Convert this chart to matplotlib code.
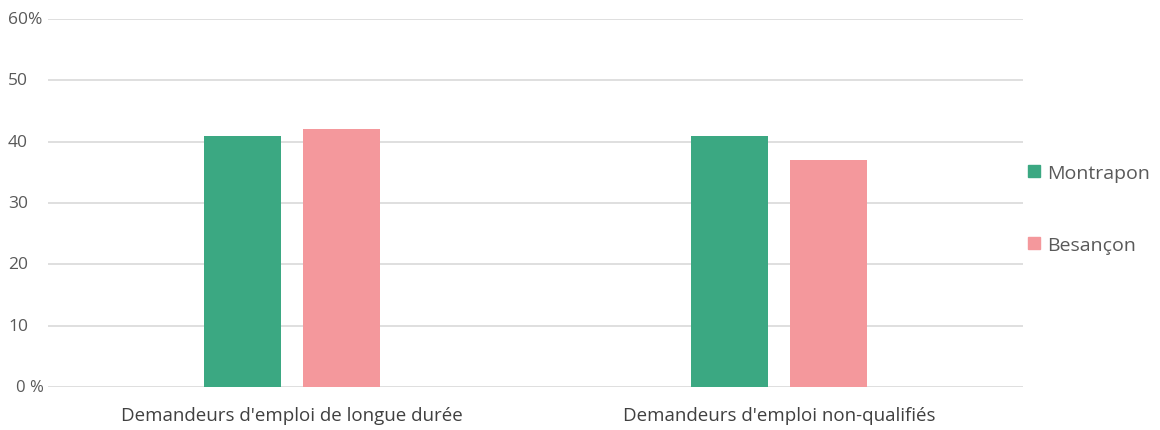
import matplotlib
matplotlib.use('Agg')
import matplotlib.pyplot as plt
from matplotlib.patches import Patch
import numpy as np

plt.rcParams['font.family'] = ['Open Sans', 'DejaVu Sans']

# Data
categories = ["Demandeurs d'emploi de longue durée", "Demandeurs d'emploi non-qualifiés"]
series_names = ['Montrapon', 'Besançon']
montrapon = [41, 41]
besancon = [42, 37]
yticks = [0, 10, 20, 30, 40, 50, 60]
ytick_labels = ['0 %', '10', '20', '30', '40', '50', '60%']

colors = ['#3ba882', '#f4989c']
text_color = '#595959'

fig = plt.figure(figsize=(11.6, 4.31), dpi=100)
ax = fig.add_axes([0.0414, 0.0998, 0.8405, 0.8538])

x = np.arange(len(categories))
w = 0.158
off = 0.1015
ax.bar(x - off, montrapon, w, color=colors[0], zorder=3)
ax.bar(x + off, besancon, w, color=colors[1], zorder=3)

ax.set_xlim(-0.5, 1.5)
ax.set_ylim(0, 60)
ax.set_yticks(yticks)
ax.yaxis.grid(True, color='#d9d9d9', lw=1.2)
ax.set_axisbelow(True)
ax.tick_params(axis='y', length=0, labelleft=False)
for s in ax.spines.values():
    s.set_visible(False)

# y tick labels drawn as text for mixed alignment
trans = ax.get_yaxis_transform()
for v, lab in zip(yticks, ytick_labels):
    if v == 0:
        ax.text(-0.004, v, lab, transform=trans, ha='right', va='center',
                fontsize=12, color=text_color)
    else:
        ax.text(-0.041, v, lab, transform=trans, ha='left', va='center',
                fontsize=12.5, color=text_color)

ax.set_xticks(x)
ax.set_xticklabels(categories, fontsize=13.5, color='#404040')
ax.tick_params(axis='x', length=0, pad=14)

handles = [Patch(color=c, label=n) for c, n in zip(colors, series_names)]
leg = fig.legend(handles=handles, loc='center left', bbox_to_anchor=(0.871, 0.513),
                 frameon=False, fontsize=14, handlelength=0.6, handleheight=0.6,
                 handletextpad=0.4, labelspacing=2.75)
for t in leg.get_texts():
    t.set_color(text_color)

fig.savefig('out.png', dpi=100)
